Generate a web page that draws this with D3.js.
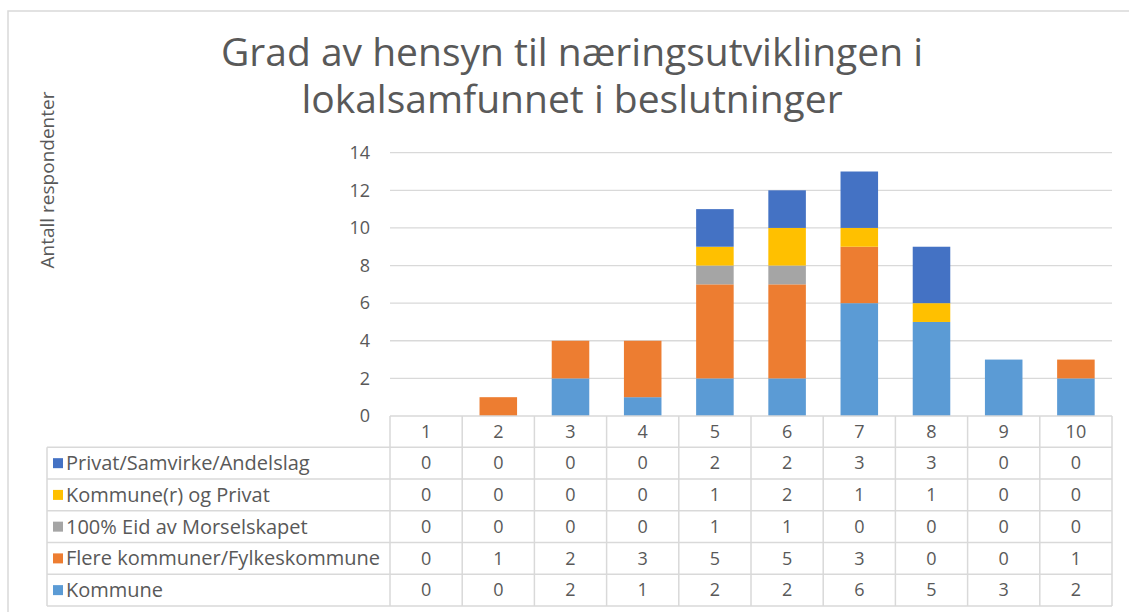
<!DOCTYPE html>
<html>
<head>
<meta charset="utf-8">
<script src="https://cdn.jsdelivr.net/npm/d3@7"></script>
<style>
  body { margin: 0; background: #fff; }
  text { font-family: "Open Sans", "Noto Sans", sans-serif; fill: #595959; }
</style>
</head>
<body>
<div class="chart"></div>
<script>
// data
var categories = ["1", "2", "3", "4", "5", "6", "7", "8", "9", "10"];
var seriesNames = ["Kommune", "Flere kommuner/Fylkeskommune", "100% Eid av Morselskapet", "Kommune(r) og Privat", "Privat/Samvirke/Andelslag"];
var kommune = [0, 0, 2, 1, 2, 2, 6, 5, 3, 2];
var flere = [0, 1, 2, 3, 5, 5, 3, 0, 0, 1];
var eid100 = [0, 0, 0, 0, 1, 1, 0, 0, 0, 0];
var kommunePrivat = [0, 0, 0, 0, 1, 2, 1, 1, 0, 0];
var privat = [0, 0, 0, 0, 2, 2, 3, 3, 0, 0];
var yTicks = [0, 2, 4, 6, 8, 10, 12, 14];
var colors = ["#5b9bd5", "#ed7d31", "#a5a5a5", "#ffc000", "#4472c4"];

drawChart();

function drawChart() {
    var svgWidth = 1129,
        svgHeight = 612;

    var svg = d3.select(".chart")
        .append("svg")
        .attr("width", svgWidth)
        .attr("height", svgHeight);

    // chart frame (only top and left edges fall inside the picture)
    svg.append("rect")
        .attr("x", 8).attr("y", 11)
        .attr("width", 1400).attr("height", 900)
        .attr("fill", "none")
        .attr("stroke", "#d9d9d9")
        .attr("stroke-width", 1.5);

    var plotLeft = 390, plotRight = 1112, plotTop = 152.7, plotBottom = 416;

    var x = d3.scaleBand().domain(categories).range([plotLeft, plotRight]).paddingInner(0.48).paddingOuter(0.24);
    var y = d3.scaleLinear().domain([0, 14]).range([plotBottom, plotTop]);

    // title
    var title = svg.append("text")
        .attr("text-anchor", "middle")
        .style("font-size", "39px");
    title.append("tspan").attr("x", 572).attr("y", 66).text("Grad av hensyn til næringsutviklingen i");
    title.append("tspan").attr("x", 572).attr("y", 113).text("lokalsamfunnet i beslutninger");

    // y axis label
    svg.append("text")
        .attr("transform", "translate(54,180) rotate(-90)")
        .attr("text-anchor", "middle")
        .style("font-size", "19px")
        .text("Antall respondenter");

    // gridlines
    svg.append("g").selectAll("line")
        .data(yTicks.slice(1))
        .enter().append("line")
        .attr("x1", plotLeft).attr("x2", plotRight)
        .attr("y1", function(d) { return y(d); })
        .attr("y2", function(d) { return y(d); })
        .attr("stroke", "#d9d9d9")
        .attr("stroke-width", 1.3);

    // y tick labels
    svg.append("g").selectAll("text")
        .data(yTicks)
        .enter().append("text")
        .attr("x", 370)
        .attr("y", function(d) { return y(d); })
        .attr("dy", "0.35em")
        .attr("text-anchor", "end")
        .style("font-size", "18px")
        .text(function(d) { return d; });

    // stacked bars
    var rows = categories.map(function(c, i) {
        return { cat: c, s0: kommune[i], s1: flere[i], s2: eid100[i], s3: kommunePrivat[i], s4: privat[i] };
    });
    var stack = d3.stack().keys(["s0", "s1", "s2", "s3", "s4"]);
    var layers = stack(rows);

    svg.append("g").selectAll("g")
        .data(layers)
        .enter().append("g")
        .attr("fill", function(d, i) { return colors[i]; })
        .selectAll("rect")
        .data(function(d) { return d.filter(function(p) { return p[1] > p[0]; }); })
        .enter().append("rect")
        .attr("x", function(d) { return x(d.data.cat); })
        .attr("width", x.bandwidth())
        .attr("y", function(d) { return y(d[1]); })
        .attr("height", function(d) { return y(d[0]) - y(d[1]); });

    // data table
    var tableLeft = 47;
    var headerH = 31.3;
    var rowH = (606 - plotBottom - headerH) / 5;
    var colW = (plotRight - plotLeft) / categories.length;
    var tableRows = [
        { name: seriesNames[4], vals: privat, color: colors[4] },
        { name: seriesNames[3], vals: kommunePrivat, color: colors[3] },
        { name: seriesNames[2], vals: eid100, color: colors[2] },
        { name: seriesNames[1], vals: flere, color: colors[1] },
        { name: seriesNames[0], vals: kommune, color: colors[0] }
    ];
    var table = svg.append("g");
    var gridColor = "#d9d9d9";
    var tableBottom = plotBottom + headerH + rowH * tableRows.length;

    // horizontal lines
    table.append("line")
        .attr("x1", plotLeft).attr("x2", plotRight)
        .attr("y1", plotBottom).attr("y2", plotBottom)
        .attr("stroke", gridColor).attr("stroke-width", 1.5);
    d3.range(tableRows.length + 1).forEach(function(i) {
        var yy = plotBottom + headerH + i * rowH;
        table.append("line")
            .attr("x1", tableLeft).attr("x2", plotRight)
            .attr("y1", yy).attr("y2", yy)
            .attr("stroke", gridColor).attr("stroke-width", 1.5);
    });
    // vertical lines
    table.append("line")
        .attr("x1", tableLeft).attr("x2", tableLeft)
        .attr("y1", plotBottom + headerH).attr("y2", tableBottom)
        .attr("stroke", gridColor).attr("stroke-width", 1.5);
    d3.range(categories.length + 1).forEach(function(i) {
        var xx = plotLeft + i * colW;
        table.append("line")
            .attr("x1", xx).attr("x2", xx)
            .attr("y1", plotBottom).attr("y2", tableBottom)
            .attr("stroke", gridColor).attr("stroke-width", 1.5);
    });

    // header categories
    table.selectAll(".hdr")
        .data(categories)
        .enter().append("text")
        .attr("class", "hdr")
        .attr("x", function(d) { return x(d) + x.bandwidth() / 2; })
        .attr("y", plotBottom + headerH / 2)
        .attr("dy", "0.35em")
        .attr("text-anchor", "middle")
        .style("font-size", "18px")
        .text(function(d) { return d; });

    tableRows.forEach(function(r, ri) {
        var cy = plotBottom + headerH + ri * rowH + rowH / 2;
        table.append("rect")
            .attr("x", 53).attr("y", cy - 5)
            .attr("width", 10).attr("height", 10)
            .attr("fill", r.color);
        table.append("text")
            .attr("x", 66).attr("y", cy)
            .attr("dy", "0.35em")
            .style("font-size", "20px")
            .text(r.name);
        table.selectAll(null)
            .data(r.vals)
            .enter().append("text")
            .attr("x", function(d, i) { return x(categories[i]) + x.bandwidth() / 2; })
            .attr("y", cy)
            .attr("dy", "0.35em")
            .attr("text-anchor", "middle")
            .style("font-size", "18px")
            .text(function(d) { return d; });
    });
}
</script>
</body>
</html>
